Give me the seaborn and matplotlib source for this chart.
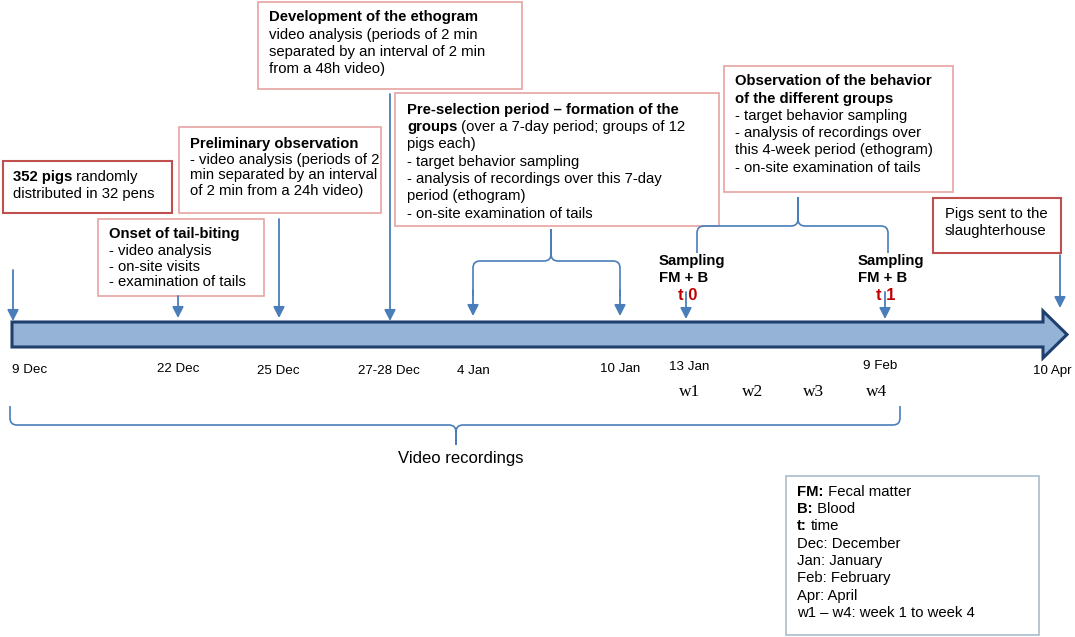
import numpy as np
import matplotlib
matplotlib.use("Agg")
import matplotlib.pyplot as plt
from matplotlib.path import Path
from matplotlib.patches import PathPatch, Rectangle, Polygon
import seaborn as sns

# ---------------- data ----------------
date_labels = ["9 Dec", "22 Dec", "25 Dec", "27-28 Dec", "4 Jan", "10 Jan", "13 Jan", "9 Feb", "10 Apr"]
week_labels = ["w1", "w2", "w3", "w4"]
sampling_labels = ["t 0", "t 1"]
legend_lines = [
    [("FM:", "bold"), (" Fecal matter", "normal")],
    [("B:", "bold"), (" Blood", "normal")],
    [("t:", "bold"), ("time", "normal")],
    [("Dec: December", "normal")],
    [("Jan: January", "normal")],
    [("Feb: February", "normal")],
    [("Apr: April", "normal")],
    [("w1 \u2013 w4: week 1 to week 4", "normal")],
]
box_pigs = [[("352 pigs", "bold"), (" randomly", "normal")],
            [("distributed in 32 pens", "normal")]]
box_onset = [[("Onset of tail-biting", "bold")],
             [("- video analysis", "normal")],
             [("- on-site visits", "normal")],
             [("- examination of tails", "normal")]]
box_prelim = [[("Preliminary observation", "bold")],
              [("- video analysis (periods of 2", "normal")],
              [("min separated by an interval", "normal")],
              [("of 2 min from a 24h video)", "normal")]]
box_dev = [[("Development of the ethogram", "bold")],
           [("video analysis (periods of 2 min", "normal")],
           [("separated by an interval of 2 min", "normal")],
           [("from a 48h video)", "normal")]]
box_presel = [[("Pre-selection period \u2013 formation of the", "bold")],
              [("groups", "bold"), (" (over a 7-day period; groups of 12", "normal")],
              [("pigs each)", "normal")],
              [("- target behavior sampling", "normal")],
              [("- analysis of recordings over this 7-day", "normal")],
              [("period (ethogram)", "normal")],
              [("- on-site examination of tails", "normal")]]
box_obs = [[("Observation of the behavior", "bold")],
           [("of the different groups", "bold")],
           [("- target behavior sampling", "normal")],
           [("- analysis of recordings over", "normal")],
           [("this 4-week period (ethogram)", "normal")],
           [("- on-site examination of tails", "normal")]]
box_sent = [[("Pigs sent to the", "normal")],
            [("slaughterhouse", "normal")]]
period_label = "Video recordings"

# ---------------- layout ----------------
date_x = [12, 178, 278, 389, 473, 620, 689, 880, 1052]
date_y = [370, 369, 371, 371, 371, 369, 367, 366, 371]
date_ha = ["left", "center", "center", "center", "center", "center", "center", "center", "center"]
week_x = [690, 753, 814, 877]

sns.set_theme(style="white")
plt.rcParams["font.family"] = ["Liberation Sans", "DejaVu Sans"]

FS = 10.7
BLUE = "#4A7EBB"
DARKRED = "#C0504D"
LIGHTRED = "#E8A3A3"

fig = plt.figure(figsize=(10.75, 6.37), dpi=100)
ax = fig.add_axes([0, 0, 1, 1])
ax.set_xlim(0, 1075)
ax.set_ylim(637, 0)
ax.axis("off")
fig.canvas.draw()
renderer = fig.canvas.get_renderer()


def rich_line(x, y, parts, size=FS, color="black"):
    cx = x
    for i, (txt, w) in enumerate(parts):
        t = ax.text(cx, y, txt, fontsize=size, fontweight=w, color=color,
                    ha="left", va="baseline")
        bb = t.get_window_extent(renderer=renderer)
        cx += bb.width  # 1 data unit == 1 pixel
        if txt.endswith(":") and i + 1 < len(parts) and not parts[i + 1][0].startswith(" "):
            cx += 4


def box(x0, y0, x1, y1, lines, ys, tx, edge, lw=1.2):
    ax.add_patch(Rectangle((x0, y0), x1 - x0, y1 - y0, fill=True, facecolor="white",
                           edgecolor=edge, linewidth=lw, zorder=1))
    for parts, yy in zip(lines, ys):
        rich_line(tx, yy + 5, parts)


def arrow(x, y0, y1, lw=1.3):
    ax.annotate("", xy=(x, y1), xytext=(x, y0),
                arrowprops=dict(arrowstyle="-|>,head_length=0.55,head_width=0.28",
                                color=BLUE, lw=lw, shrinkA=0, shrinkB=0,
                                mutation_scale=12))


def brace(xl, xr, xc, y_end, y_bar, y_tip, r=7):
    """curly brace; works for both orientations (y_end vs y_bar)."""
    s = np.sign(y_bar - y_end)
    st = np.sign(y_tip - y_bar)
    verts = [
        (xl, y_end), (xl, y_bar - s * r), (xl, y_bar), (xl + r, y_bar),
        (xc - r, y_bar), (xc, y_bar), (xc, y_bar + st * r), (xc, y_tip),
        (xc, y_bar + st * r), (xc, y_bar), (xc + r, y_bar),
        (xr - r, y_bar), (xr, y_bar), (xr, y_bar - s * r), (xr, y_end),
    ]
    codes = [Path.MOVETO, Path.LINETO, Path.CURVE3, Path.CURVE3,
             Path.LINETO, Path.CURVE3, Path.CURVE3, Path.LINETO,
             Path.LINETO, Path.CURVE3, Path.CURVE3,
             Path.LINETO, Path.CURVE3, Path.CURVE3, Path.LINETO]
    ax.add_patch(PathPatch(Path(verts, codes), fill=False, edgecolor=BLUE, lw=1.2))


# main timeline arrow
body_top, body_bot = 322, 347
head_x, tip_x = 1043, 1067
ax.add_patch(Polygon([(12, body_top), (head_x, body_top), (head_x, 311), (tip_x, 334.5),
                      (head_x, 358), (head_x, body_bot), (12, body_bot)],
                     closed=True, facecolor="#95B3D7", edgecolor="#1F3F6E", lw=2.2,
                     joinstyle="miter", zorder=2))

# boxes
box(3, 161, 172, 213, box_pigs, [176, 193], 13, DARKRED, lw=1.5)
box(98, 219, 264, 296, box_onset, [233, 250, 266, 281], 109, LIGHTRED)
box(179, 127, 381, 213, box_prelim, [143, 159, 174, 190], 190, LIGHTRED)
box(258, 2, 522, 89, box_dev, [16, 34, 51, 68], 269, LIGHTRED)
box(395, 93, 719, 226, box_presel, [109, 126, 143, 161, 178, 195, 213], 407, LIGHTRED)
box(724, 66, 953, 192, box_obs, [80, 98, 115, 132, 149, 167], 735, LIGHTRED)
box(933, 198, 1061, 253, box_sent, [213, 230], 945, DARKRED, lw=1.5)
box(786, 476, 1039, 635, legend_lines, [491, 508, 525, 543, 560, 577, 595, 612], 797,
    "#A9BCCB", lw=1.2)

# event arrows
arrow(13, 270, 321)
arrow(178, 296, 318)
arrow(279, 219, 318)
arrow(390, 94, 321)
arrow(1060, 255, 308)

# pre-selection brace with arrows
brace(473, 620, 551, 296, 261, 229)
arrow(473, 290, 316)
arrow(620, 290, 316)

# observation brace
brace(697, 888, 798, 253, 226, 197)

# sampling labels
for xs in [659, 858]:
    rich_line(xs, 265, [("Sampling", "bold")])
    rich_line(xs, 282, [("FM + B", "bold")])
for xc, lab in zip([688, 886], sampling_labels):
    ax.text(xc, 300, lab, fontsize=12, fontweight="bold", color="#C00000",
            ha="center", va="baseline")
arrow(686, 292, 319)
arrow(885, 292, 319)

# date labels
for x, y, lab, ha in zip(date_x, date_y, date_labels, date_ha):
    ax.text(x, y, lab, fontsize=9.6, ha=ha, va="center", color="black")

# week labels (serif)
for x, lab in zip(week_x, week_labels):
    ax.text(x, 392, lab, fontsize=12.5, ha="center", va="center",
            family=["Liberation Serif", "DejaVu Serif"], color="black")

# video recordings brace
brace(10, 900, 456, 406, 425, 445)
ax.text(461, 459, period_label, fontsize=12, ha="center", va="center", color="black")

fig.savefig("out.png", dpi=100)
